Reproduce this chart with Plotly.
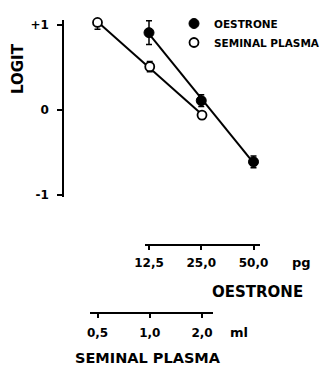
import numpy as np
import plotly.graph_objects as go

# ---- data ----
oestrone_pg = [12.5, 25.0, 50.0]
oestrone_logit = [0.91, 0.11, -0.61]
oestrone_err = [0.14, 0.07, 0.07]

plasma_ml = [0.5, 1.0, 2.0]
plasma_logit = [1.03, 0.51, -0.06]
plasma_err = [0.08, 0.06, 0.04]

y_ticks = [-1, 0, 1]
y_ticktext = ["-1", "0", "+1"]
oestrone_ticktext = ["12,5", "25,0", "50,0"]
plasma_ticktext = ["0,5", "1,0", "2,0"]

W, H = 325, 367
FONT = "DejaVu Sans"


def fx(px):
    return px / W


def fy(py):
    return 1 - py / H


def fit(xs, ys):
    lx = np.log10(xs)
    k, b = np.polyfit(lx, ys, 1)
    ends = np.array([min(xs), max(xs)])
    return ends, k * np.log10(ends) + b


ox, oy = fit(oestrone_pg, oestrone_logit)
sx, sy = fit(plasma_ml, plasma_logit)

fig = go.Figure()

line_style = dict(color="black", width=2)
fig.add_trace(go.Scatter(x=ox, y=oy, mode="lines", line=line_style,
                         xaxis="x2", yaxis="y", showlegend=False, hoverinfo="skip"))
fig.add_trace(go.Scatter(x=sx, y=sy, mode="lines", line=line_style,
                         xaxis="x3", yaxis="y", showlegend=False, hoverinfo="skip"))

err_style = dict(type="data", visible=True, color="black", thickness=1.5, width=3)
fig.add_trace(go.Scatter(
    x=oestrone_pg, y=oestrone_logit, mode="markers", name="OESTRONE",
    marker=dict(symbol="circle", size=10, color="black", line=dict(color="black", width=1)),
    error_y=dict(array=oestrone_err, **err_style),
    xaxis="x2", yaxis="y", cliponaxis=False))
fig.add_trace(go.Scatter(
    x=plasma_ml, y=plasma_logit, mode="markers", name="SEMINAL PLASMA",
    marker=dict(symbol="circle", size=9, color="white", line=dict(color="black", width=1.8)),
    error_y=dict(array=plasma_err, **err_style),
    xaxis="x3", yaxis="y", cliponaxis=False))

# scale: px per decade, shared by both log axes
ppd = 104.5 / np.log10(4)


def log_range(v0, p0, dom0, dom1):
    a = np.log10(v0) - (p0 - dom0) / ppd
    b = a + (dom1 - dom0) / ppd
    return [a, b]


tickfont = dict(family=FONT, size=12, color="black", weight="bold")
axis_common = dict(type="log", showline=True, linecolor="black", linewidth=1.5,
                   ticks="outside", ticklen=4, tickwidth=1.5, tickcolor="black",
                   showgrid=False, zeroline=False, tickfont=tickfont,
                   anchor="free", fixedrange=True, automargin=False)

# y axis: 0 at px 110, 85 px per unit, line from px 20 to 197
y_top, y_bot, y0, ppu = 20, 197, 110, 85
fig.update_layout(
    width=W, height=H,
    margin=dict(l=0, r=0, t=0, b=0, pad=0),
    paper_bgcolor="white", plot_bgcolor="rgba(0,0,0,0)",
    yaxis=dict(domain=[fy(y_bot), fy(y_top)],
               range=[(y0 - y_bot) / ppu, (y0 - y_top) / ppu],
               anchor="free", position=fx(63), side="left",
               showline=True, linecolor="black", linewidth=1.5,
               ticks="outside", ticklen=5, tickwidth=1.5, tickcolor="black",
               tickvals=y_ticks, ticktext=y_ticktext,
               tickfont=dict(family=FONT, size=12, color="black", weight="bold"),
               ticklabelstandoff=6, automargin=False,
               showgrid=False, zeroline=False, fixedrange=True),
    xaxis2=dict(domain=[fx(145), fx(260)],
                range=log_range(12.5, 149, 145, 260),
                position=fy(245), ticklabelstandoff=3,
                tickvals=oestrone_pg, ticktext=oestrone_ticktext, **axis_common),
    xaxis3=dict(domain=[fx(90), fx(213)],
                range=log_range(0.5, 97.5, 90, 213),
                position=fy(313), ticklabelstandoff=5,
                tickvals=plasma_ml, ticktext=plasma_ticktext, **axis_common),
    legend=dict(x=1, y=fy(9), xanchor="right", yanchor="top",
                bgcolor="rgba(0,0,0,0)", borderwidth=0, tracegroupgap=0,
                font=dict(family=FONT, size=10.5, color="black", weight="bold")),
    showlegend=True,
)

ann_font = dict(family=FONT, size=15, color="black", weight="bold")
small_font = dict(family=FONT, size=13, color="black", weight="bold")
annotations = [
    dict(text="LOGIT", x=fx(18), y=fy(69), textangle=-90, font=ann_font),
    dict(text="pg", x=fx(301), y=fy(262), font=small_font),
    dict(text="OESTRONE", x=fx(257), y=fy(292), font=ann_font),
    dict(text="ml", x=fx(239), y=fy(332), font=small_font),
    dict(text="SEMINAL PLASMA", x=fx(148), y=fy(358),
         font=dict(family=FONT, size=14.5, color="black", weight="bold")),
]
for a in annotations:
    a.update(xref="paper", yref="paper", showarrow=False,
             xanchor="center", yanchor="middle")
fig.update_layout(annotations=annotations)

fig.write_html(
    "out.html",
    config={"displayModeBar": False},
    post_script="document.body.style.margin='0';document.body.style.overflow='hidden';",
)
